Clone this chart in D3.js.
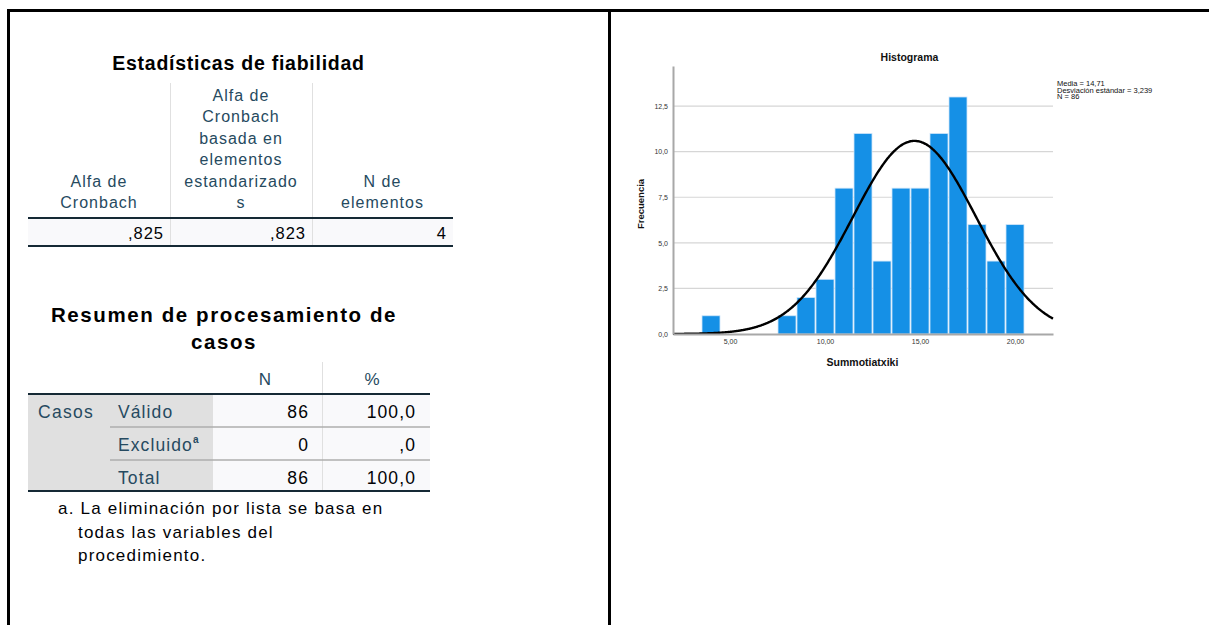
<!DOCTYPE html>
<html>
<head>
<meta charset="utf-8">
<script src="https://cdn.jsdelivr.net/npm/d3@7"></script>
<style>
  html, body { margin: 0; padding: 0; background: #fff; }
  svg { display: block; }
  text { font-family: "Liberation Sans", Arial, sans-serif; }
</style>
</head>
<body>
<svg id="page" width="1209" height="625"></svg>
<script>
// ---- Histogram data: Summotiatxiki (integer bins, width 1) ----
const binCenters  = [4, 8, 9, 10, 11, 12, 13, 14, 15, 16, 17, 18, 19, 20];
const frequencies = [1, 1, 2, 3, 8, 11, 4, 8, 8, 11, 13, 6, 4, 6];
const xTicks = [5, 10, 15, 20];
const yTicks = [0, 2.5, 5, 7.5, 10, 12.5];
const meanValue = 14.71;
const sdValue = 3.239;
const nValue = 86;
const statLines = ["Media = 14,71", "Desviación estándar = 3,239", "N = 86"];

// ---- Reliability table ----
const reliabilityHeaders = [
  ["Alfa de", "Cronbach"],
  ["Alfa de", "Cronbach", "basada en", "elementos", "estandarizado", "s"],
  ["N de", "elementos"]
];
const reliabilityValues = [",825", ",823", "4"];

// ---- Case processing summary ----
const caseHeaders = ["N", "%"];
const caseRowLabels = ["Válido", "Excluido", "Total"];
const caseN = ["86", "0", "86"];
const casePct = ["100,0", ",0", "100,0"];
const footnoteLines = ["a. La eliminación por lista se basa en", "todas las variables del", "procedimiento."];

const svg = d3.select("#page");
const headColor = "#264a60";
const valColor = "#010205";
const ruleColor = "#152935";

// ---- Outer frame ----
const frame = svg.append("g").attr("stroke", "#000").attr("stroke-width", 3);
frame.append("line").attr("x1", 7).attr("x2", 1209).attr("y1", 10.5).attr("y2", 10.5);
frame.append("line").attr("x1", 8.5).attr("x2", 8.5).attr("y1", 9).attr("y2", 625);
frame.append("line").attr("x1", 609.5).attr("x2", 609.5).attr("y1", 9).attr("y2", 625);

// ---- Table 1: Estadísticas de fiabilidad ----
const t1 = svg.append("g");
t1.append("text").attr("x", 238.5).attr("y", 70).attr("text-anchor", "middle")
  .attr("font-size", 19.5).attr("font-weight", "bold").attr("fill", "#000")
  .attr("letter-spacing", 0.75).text("Estadísticas de fiabilidad");

const t1Cols = [28, 170, 312, 453];
const t1HeadTop = 83, t1HeadBottom = 218, t1RowBottom = 246;
t1.append("rect").attr("x", t1Cols[0]).attr("y", t1HeadBottom).attr("width", t1Cols[3] - t1Cols[0])
  .attr("height", t1RowBottom - t1HeadBottom).attr("fill", "#f9f9fb");
[t1Cols[1], t1Cols[2]].forEach(x => {
  t1.append("line").attr("x1", x + 0.5).attr("x2", x + 0.5).attr("y1", t1HeadTop).attr("y2", t1RowBottom)
    .attr("stroke", "#e0e0e0").attr("stroke-width", 1);
});
reliabilityHeaders.forEach((lines, i) => {
  const cx = (t1Cols[i] + t1Cols[i + 1]) / 2;
  const n = lines.length;
  lines.forEach((ln, j) => {
    t1.append("text").attr("x", cx).attr("y", 208 - (n - 1 - j) * 21.4)
      .attr("text-anchor", "middle").attr("font-size", 16).attr("letter-spacing", 1)
      .attr("fill", headColor).text(ln);
  });
});
reliabilityValues.forEach((v, i) => {
  t1.append("text").attr("x", t1Cols[i + 1] - 6).attr("y", 239).attr("text-anchor", "end")
    .attr("font-size", 16.5).attr("letter-spacing", 1).attr("fill", valColor).text(v);
});
[t1HeadBottom, t1RowBottom].forEach(y => {
  t1.append("line").attr("x1", t1Cols[0]).attr("x2", t1Cols[3]).attr("y1", y).attr("y2", y)
    .attr("stroke", ruleColor).attr("stroke-width", 2);
});

// ---- Table 2: Resumen de procesamiento de casos ----
const t2 = svg.append("g");
["Resumen de procesamiento de", "casos"].forEach((ln, i) => {
  t2.append("text").attr("x", 224).attr("y", 322 + i * 27).attr("text-anchor", "middle")
    .attr("font-size", 20.5).attr("font-weight", "bold").attr("fill", "#000")
    .attr("letter-spacing", 1.6).text(ln);
});
const t2Left = 28, t2LabelEnd = 213, t2Mid = 322, t2Right = 430;
const t2HeadTop = 362, t2HeadBottom = 394, t2Bottom = 491;
const rowTops = [394, 427, 460];
t2.append("rect").attr("x", t2Left).attr("y", t2HeadBottom).attr("width", t2LabelEnd - t2Left)
  .attr("height", t2Bottom - t2HeadBottom).attr("fill", "#e0e0e0");
t2.append("rect").attr("x", t2LabelEnd).attr("y", t2HeadBottom).attr("width", t2Right - t2LabelEnd)
  .attr("height", t2Bottom - t2HeadBottom).attr("fill", "#f9f9fb");
t2.append("line").attr("x1", t2Mid + 0.5).attr("x2", t2Mid + 0.5).attr("y1", t2HeadTop).attr("y2", t2Bottom)
  .attr("stroke", "#e0e0e0").attr("stroke-width", 1);
const headCenters = [265, 372];
caseHeaders.forEach((hd, i) => {
  t2.append("text").attr("x", headCenters[i]).attr("y", 385).attr("text-anchor", "middle")
    .attr("font-size", 17).attr("fill", headColor).text(hd);
});
t2.append("text").attr("x", 38).attr("y", 418).attr("font-size", 17.5).attr("letter-spacing", 1.3)
  .attr("fill", headColor).text("Casos");
caseRowLabels.forEach((lab, i) => {
  const y = rowTops[i] + 24;
  const t = t2.append("text").attr("x", 118).attr("y", y).attr("font-size", 17.5)
    .attr("letter-spacing", 1.1).attr("fill", headColor);
  t.append("tspan").text(lab);
  if (lab === "Excluido") {
    t.append("tspan").attr("font-size", 10).attr("dy", -8).attr("font-weight", "bold").text("a");
  }
  t2.append("text").attr("x", t2Mid - 13).attr("y", y).attr("text-anchor", "end")
    .attr("font-size", 17.5).attr("letter-spacing", 1.1).attr("fill", valColor).text(caseN[i]);
  t2.append("text").attr("x", t2Right - 14).attr("y", y).attr("text-anchor", "end")
    .attr("font-size", 17.5).attr("letter-spacing", 1.1).attr("fill", valColor).text(casePct[i]);
});
[rowTops[1], rowTops[2]].forEach(y => {
  t2.append("line").attr("x1", 110).attr("x2", t2Right).attr("y1", y).attr("y2", y)
    .attr("stroke", "#aeaeae").attr("stroke-width", 1.5);
});
[t2HeadBottom, t2Bottom].forEach(y => {
  t2.append("line").attr("x1", t2Left).attr("x2", t2Right).attr("y1", y).attr("y2", y)
    .attr("stroke", ruleColor).attr("stroke-width", 2);
});
footnoteLines.forEach((ln, i) => {
  t2.append("text").attr("x", i === 0 ? 58 : 78).attr("y", 514 + i * 23.5)
    .attr("font-size", 17).attr("letter-spacing", 1.2).attr("fill", valColor).text(ln);
});

// ---- Histogram ----
const locale = d3.formatLocale({ decimal: ",", thousands: ".", grouping: [3], currency: ["", "€"] });
const fmtY = locale.format(".1f");
const fmtX = locale.format(".2f");

const x = d3.scaleLinear().domain([2, 22]).range([673, 1053]);
const y = d3.scaleLinear().domain([0, 14.7]).range([334, 66]);

const h = svg.append("g");

// gridlines
h.append("g").selectAll("line").data(yTicks.filter(d => d > 0)).join("line")
  .attr("x1", x.range()[0]).attr("x2", x.range()[1])
  .attr("y1", d => y(d)).attr("y2", d => y(d))
  .attr("stroke", "#d6d6d6").attr("stroke-width", 1.2);

// bars
const bins = binCenters.map((c, i) => ({ c, f: frequencies[i] }));
h.append("g").selectAll("rect").data(bins).join("rect")
  .attr("x", d => x(d.c - 0.5) + 0.5)
  .attr("width", d => x(d.c + 0.5) - x(d.c - 0.5) - 1)
  .attr("y", d => y(d.f))
  .attr("height", d => y(0) - y(d.f))
  .attr("fill", "#1590e6").attr("stroke", "#cfe5f9").attr("stroke-width", 0.8);

// normal curve from mean and standard deviation
const pdf = v => Math.exp(-0.5 * ((v - meanValue) / sdValue) ** 2) / (sdValue * Math.sqrt(2 * Math.PI));
const curvePts = d3.range(2, 22.001, 0.05).map(v => [v, nValue * 1 * pdf(v)]);
h.append("path").datum(curvePts)
  .attr("d", d3.line().x(d => x(d[0])).y(d => y(d[1])).curve(d3.curveBasis))
  .attr("fill", "none").attr("stroke", "#000").attr("stroke-width", 2.4);

// axes
const yAxis = h.append("g").attr("transform", `translate(${x.range()[0]},0)`)
  .call(d3.axisLeft(y).tickValues(yTicks).tickFormat(fmtY).tickSize(0).tickPadding(5));
const xAxis = h.append("g").attr("transform", `translate(0,${y(0)})`)
  .call(d3.axisBottom(x).tickValues(xTicks).tickFormat(fmtX).tickSize(0).tickPadding(5));
[yAxis, xAxis].forEach(a => {
  a.select(".domain").attr("stroke", "#a8a8a8").attr("stroke-width", 2);
  a.selectAll("text").attr("font-size", 7).attr("fill", "#333").attr("font-family", "Liberation Sans, Arial, sans-serif");
});

// titles
h.append("text").attr("x", 909.5).attr("y", 61).attr("text-anchor", "middle")
  .attr("font-size", 10.5).attr("font-weight", "bold").attr("fill", "#111").text("Histograma");
h.append("text").attr("transform", "translate(643.5,204) rotate(-90)").attr("text-anchor", "middle")
  .attr("font-size", 9.5).attr("font-weight", "bold").attr("fill", "#111").text("Frecuencia");
h.append("text").attr("x", 862.5).attr("y", 366).attr("text-anchor", "middle")
  .attr("font-size", 10.5).attr("font-weight", "bold").attr("fill", "#111").text("Summotiatxiki");

// summary statistics
statLines.forEach((s, i) => {
  h.append("text").attr("x", 1057).attr("y", 86 + i * 6.6)
    .attr("font-size", 7.5).attr("fill", "#111").text(s);
});
</script>
</body>
</html>
